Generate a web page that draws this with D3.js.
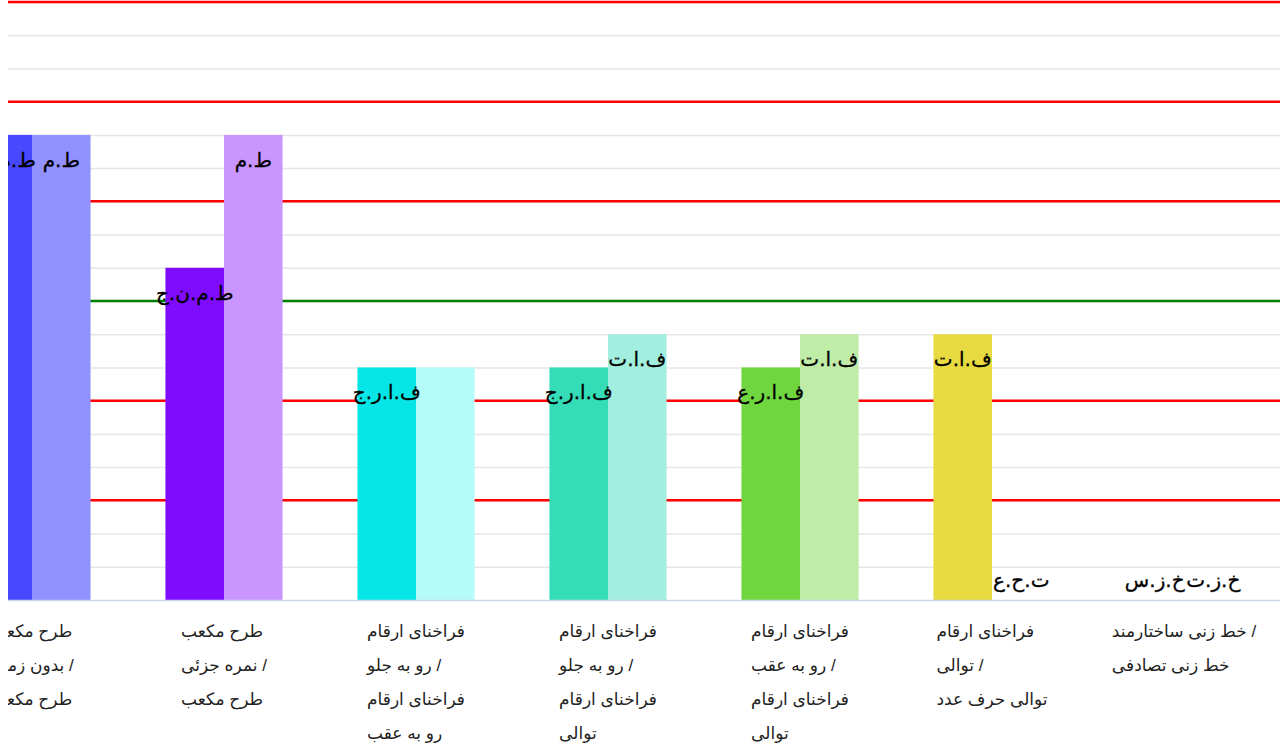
<!DOCTYPE html>
<html>
<head>
<meta charset="utf-8">
<script src="https://cdn.jsdelivr.net/npm/d3@7"></script>
<style>
  body { margin: 0; background: #fff; }
  svg { display: block; }
</style>
</head>
<body>
<div id="chart"></div>
<script>
var W = 1285, H = 753;

// categories, each one already split into its lines
var categories = [
  ["طرح مکعب", "بدون زمان /", "طرح مکعب"],
  ["طرح مکعب", "نمره جزئی /", "طرح مکعب"],
  ["فراخنای ارقام", "رو به جلو /", "فراخنای ارقام", "رو به عقب"],
  ["فراخنای ارقام", "رو به جلو /", "فراخنای ارقام", "توالی"],
  ["فراخنای ارقام", "رو به عقب /", "فراخنای ارقام", "توالی"],
  ["فراخنای ارقام", "توالی /", "توالی حرف عدد"],
  ["خط زنی ساختارمند /", "خط زنی تصادفی"]
];

var firstValues  = [14, 10, 7, 7, 7, 8, 0];
var secondValues = [14, 14, 7, 8, 8, 0, 0];

var firstLabels  = ["ط.ه.ص", "ط.م.ن.ج", "ف.ا.ر.ج", "ف.ا.ر.ج", "ف.ا.ر.ع", "ف.ا.ت", "خ.ز.س"];
var secondLabels = ["ط.م", "ط.م", "", "ف.ا.ت", "ف.ا.ت", "ت.ح.ع", "خ.ز.ت"];

var firstColors  = ["#4848ff", "#7f0cff", "#06e6e6", "#34dcb8", "#6fd640", "#e8db41", "#f2ea9a"];
var secondColors = ["#9191ff", "#c996ff", "#b4fbfa", "#a3efdf", "#bfeca7", "#f4efb0", "#f4efb0"];

var redLevels   = [3, 6, 12, 15, 18];
var greenLevels = [9];
var yMax = 18;

var plotLeft = 8, plotRight = 1280, plotTop = 2, plotBottom = 600;

var svg = d3.select('#chart').append('svg')
    .attr('width', W)
    .attr('height', H);

svg.append('defs').append('clipPath')
    .attr('id', 'clip')
    .append('rect')
    .attr('x', plotLeft).attr('y', 0)
    .attr('width', plotRight - plotLeft).attr('height', H);

var plot = svg.append('g').attr('clip-path', 'url(#clip)');

var idx = d3.range(categories.length);

//scales
var x0 = d3.scaleBand()
    .domain(idx)
    .range([-64, 1280])
    .paddingInner(0.39)
    .paddingOuter(0.195);

var x1 = d3.scaleBand()
    .domain([0, 1])
    .range([0, x0.bandwidth()]);

var y = d3.scaleLinear()
    .domain([0, yMax])
    .range([plotBottom, plotTop]);

//grid
var axisY = d3.axisLeft(y)
    .tickValues(d3.range(1, yMax + 1))
    .tickSize(-(plotRight - plotLeft))
    .tickFormat('');

var grid = plot.append('g')
    .attr('transform', 'translate(' + plotLeft + ',0)')
    .call(axisY);
grid.select('.domain').remove();
grid.selectAll('.tick line').attr('stroke', '#e6e6e6').attr('stroke-width', 1.5);

//reference lines
plot.selectAll('.red-line')
    .data(redLevels)
    .enter()
    .append('line')
    .attr('class', 'red-line')
    .attr('x1', plotLeft).attr('x2', plotRight)
    .attr('y1', function(d){ return y(d); })
    .attr('y2', function(d){ return y(d); })
    .attr('stroke', '#ff0000')
    .attr('stroke-width', 2.5);

plot.selectAll('.green-line')
    .data(greenLevels)
    .enter()
    .append('line')
    .attr('class', 'green-line')
    .attr('x1', plotLeft).attr('x2', plotRight)
    .attr('y1', function(d){ return y(d); })
    .attr('y2', function(d){ return y(d); })
    .attr('stroke', '#008000')
    .attr('stroke-width', 2.5);

//bars
var bars = [];
idx.forEach(function(i){
  bars.push({ i: i, s: 0, v: firstValues[i], label: firstLabels[i], color: firstColors[i] });
  bars.push({ i: i, s: 1, v: secondValues[i], label: secondLabels[i], color: secondColors[i] });
});

plot.selectAll('.bar')
    .data(bars)
    .enter()
    .append('rect')
    .attr('class', 'bar')
    .attr('x', function(d){ return x0(d.i) + x1(d.s); })
    .attr('width', x1.bandwidth())
    .attr('y', function(d){ return y(d.v); })
    .attr('height', function(d){ return plotBottom - y(d.v); })
    .attr('fill', function(d){ return d.color; });

//x axis line
var axisX = d3.axisBottom(x0).tickSize(0).tickFormat('');
var xg = plot.append('g')
    .attr('transform', 'translate(0,' + plotBottom + ')')
    .call(axisX);
xg.select('.domain')
    .attr('stroke', '#ccd6eb')
    .attr('stroke-width', 1.5)
    .attr('d', 'M' + plotLeft + ',0.5H' + plotRight);

//bar labels
plot.selectAll('.bar-label')
    .data(bars.filter(function(d){ return d.label; }))
    .enter()
    .append('text')
    .attr('class', 'bar-label')
    .attr('x', function(d){ return x0(d.i) + x1(d.s) + x1.bandwidth() / 2; })
    .attr('y', function(d){ return Math.min(y(d.v) + 32, plotBottom - 13); })
    .attr('text-anchor', 'middle')
    .style('font-family', 'DejaVu Sans, sans-serif')
    .style('font-size', '20px')
    .style('fill', '#000')
    .style('stroke', '#000')
    .style('stroke-width', '0.3px')
    .text(function(d){ return d.label; });

//category labels, lines left-aligned inside a box centred on the group
var catG = plot.selectAll('.cat')
    .data(idx)
    .enter()
    .append('g')
    .attr('class', 'cat');

catG.each(function(i){
  var g = d3.select(this);
  var texts = g.selectAll('text')
      .data(categories[i])
      .enter()
      .append('text')
      .attr('y', function(d, k){ return 637 + k * 34; })
      .style('font-family', 'Arial, Liberation Sans, DejaVu Sans, sans-serif')
      .style('font-size', '17px')
      .style('fill', '#222')
      .text(function(d){ return d; });
  var maxW = 0;
  texts.each(function(){ maxW = Math.max(maxW, this.getComputedTextLength()); });
  var cx = x0(i) + x0.bandwidth() / 2;
  texts.attr('x', cx - maxW / 2);
});
</script>
</body>
</html>
